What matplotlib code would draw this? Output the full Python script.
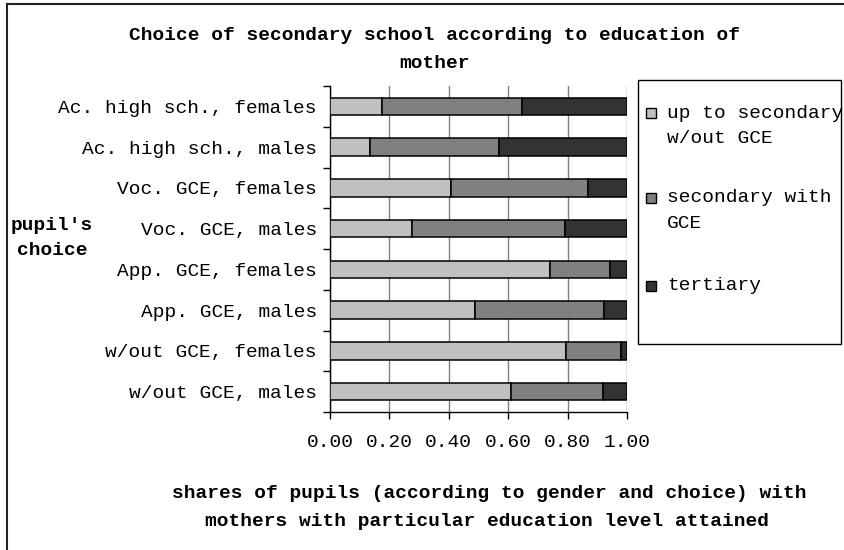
import matplotlib
matplotlib.use("Agg")
import matplotlib.pyplot as plt
from matplotlib.patches import Rectangle
from matplotlib.lines import Line2D
import numpy as np

# ---- data (top to bottom as shown) ----
categories = ["Ac. high sch., females", "Ac. high sch., males",
              "Voc. GCE, females", "Voc. GCE, males",
              "App. GCE, females", "App. GCE, males",
              "w/out GCE, females", "w/out GCE, males"]
up_to_secondary = [0.176, 0.135, 0.409, 0.275, 0.741, 0.489, 0.795, 0.608]
secondary_gce   = [0.472, 0.434, 0.461, 0.517, 0.203, 0.432, 0.186, 0.311]
tertiary        = [0.352, 0.431, 0.130, 0.208, 0.056, 0.079, 0.019, 0.081]
series_names = ["up to secondary\nw/out GCE", "secondary with\nGCE", "tertiary"]
series_colors = ["#C0C0C0", "#808080", "#333333"]
xticks = [0.0, 0.2, 0.4, 0.6, 0.8, 1.0]

W, H = 844, 550
MONO = "Liberation Mono"

def fx(x):
    return x / W

def fy(y):
    return 1 - y / H

fig = plt.figure(figsize=(W / 100, H / 100), dpi=100)
ax = fig.add_axes([fx(330), fy(412), fx(627) - fx(330), fy(86) - fy(412)])

n = len(categories)
ypos = np.arange(n)[::-1]  # first category at top
left = np.zeros(n)
for vals, name, col in zip([up_to_secondary, secondary_gce, tertiary], series_names, series_colors):
    ax.barh(ypos, vals, left=left, height=0.43, color=col, edgecolor="black",
            linewidth=1.1, zorder=3)
    left = left + np.array(vals)

ax.set_xlim(0, 1.0)
ax.set_ylim(-0.5, n - 0.5)

# x axis
ax.set_xticks(xticks)
ax.set_xticklabels([f"{t:.2f}" for t in xticks], fontfamily=MONO, fontsize=14)
ax.tick_params(axis="x", direction="out", length=5, width=1, color="black", pad=11)
ax.xaxis.grid(True, color="#808080", linewidth=1.0, zorder=0)
ax.set_axisbelow(True)

# y axis: labels at centers, ticks at boundaries
ax.set_yticks(ypos)
ax.set_yticklabels(categories, fontfamily=MONO, fontsize=14)
ax.tick_params(axis="y", which="major", length=0, pad=9.5)
ax.set_yticks(np.arange(-0.5, n, 1.0), minor=True)
ax.tick_params(axis="y", which="minor", direction="out", length=5, width=1, color="black")

for s in ["top", "right"]:
    ax.spines[s].set_visible(False)
for s in ["left", "bottom"]:
    ax.spines[s].set_linewidth(1.0)
    ax.spines[s].set_color("black")

# title
fig.text(fx(435), fy(36), "Choice of secondary school according to education of",
         ha="center", va="center", fontfamily=MONO, fontweight="bold", fontsize=14)
fig.text(fx(435), fy(63), "mother",
         ha="center", va="center", fontfamily=MONO, fontweight="bold", fontsize=14)

# x label
fig.text(fx(489), fy(494), "shares of pupils (according to gender and choice) with",
         ha="center", va="center", fontfamily=MONO, fontweight="bold", fontsize=14)
fig.text(fx(487), fy(521), "mothers with particular education level attained",
         ha="center", va="center", fontfamily=MONO, fontweight="bold", fontsize=14)

# y label
fig.text(fx(52), fy(226), "pupil's", ha="center", va="center",
         fontfamily=MONO, fontweight="bold", fontsize=14)
fig.text(fx(52), fy(251), "choice", ha="center", va="center",
         fontfamily=MONO, fontweight="bold", fontsize=14)

# legend box (manual)
fig.add_artist(Rectangle((fx(638), fy(344)), fx(841) - fx(638), fy(80) - fy(344),
                         transform=fig.transFigure, facecolor="white",
                         edgecolor="black", linewidth=1.0))
first_lines = [113, 198, 286]
for yline, name, col in zip(first_lines, series_names, series_colors):
    fig.add_artist(Rectangle((fx(646), fy(yline + 5)), fx(656) - fx(646), fy(yline - 5) - fy(yline + 5),
                             transform=fig.transFigure, facecolor=col,
                             edgecolor="black", linewidth=1.0))
    for k, line in enumerate(name.split("\n")):
        fig.text(fx(667), fy(yline + 25 * k), line, ha="left", va="center",
                 fontfamily=MONO, fontsize=14)

# figure border (top and left visible)
fig.add_artist(Line2D([fx(7), fx(7)], [fy(4), 0], transform=fig.transFigure,
                      color="#222222", linewidth=1.5))
fig.add_artist(Line2D([fx(7), 1], [fy(4), fy(4)], transform=fig.transFigure,
                      color="#222222", linewidth=1.5))

fig.savefig("out.png", dpi=100)
